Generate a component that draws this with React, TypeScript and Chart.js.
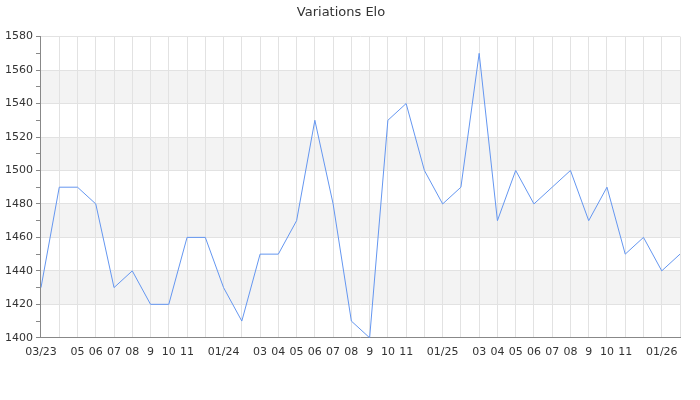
import React, { useEffect, useRef } from "react";
import { Chart, registerables } from "chart.js";

Chart.register(...registerables);

const months = [
  "2023-03","2023-04","2023-05","2023-06","2023-07","2023-08","2023-09","2023-10","2023-11","2023-12",
  "2024-01","2024-02","2024-03","2024-04","2024-05","2024-06","2024-07","2024-08","2024-09","2024-10","2024-11","2024-12",
  "2025-01","2025-02","2025-03","2025-04","2025-05","2025-06","2025-07","2025-08","2025-09","2025-10","2025-11","2025-12",
  "2026-01","2026-02",
];
const tickLabels = [
  "03/23","","05","06","07","08","9","10","11","",
  "01/24","","03","04","05","06","07","08","9","10","11","",
  "01/25","","03","04","05","06","07","08","9","10","11","",
  "01/26","",
];
const elo = [
  1430,1490,1490,1480,1430,1440,1420,1420,1460,1460,
  1430,1410,1450,1450,1470,1530,1480,1410,1400,1530,1540,1500,
  1480,1490,1570,1470,1500,1480,1490,1500,1470,1490,1450,1460,
  1440,1450,
];
const shadedBands = [[1420,1440],[1460,1480],[1500,1520],[1540,1560]];

const bandPlugin = {
  id: "bands",
  beforeDraw(chart: any) {
    const { ctx, chartArea, scales } = chart;
    ctx.save();
    ctx.fillStyle = "#ffffff";
    ctx.fillRect(0, 0, chart.width, chart.height);
    ctx.fillStyle = "#f3f3f3";
    const y = scales.y;
    for (const [a, b] of shadedBands) {
      const y1 = y.getPixelForValue(b);
      const y2 = y.getPixelForValue(a);
      ctx.fillRect(chartArea.left, y1, chartArea.right - chartArea.left, y2 - y1);
    }
    ctx.restore();
  },
};

export default function App() {
  const ref = useRef<HTMLCanvasElement>(null);
  useEffect(() => {
    document.body.style.margin = "0";
    const chart = new Chart(ref.current!, {
      type: "line",
      data: {
        labels: months,
        datasets: [
          {
            data: elo,
            borderColor: "rgb(100,150,240)",
            borderWidth: 1,
            pointRadius: 0,
            tension: 0,
            fill: false,
          },
        ],
      },
      options: {
        animation: false,
        responsive: false,
        layout: { padding: { left: 2, right: 20, bottom: 33, top: 0 } },
        font: { family: "DejaVu Sans", size: 11 },
        plugins: {
          legend: { display: false },
          tooltip: { enabled: false },
          title: {
            display: true,
            text: "Variations Elo",
            color: "#333",
            font: { family: "DejaVu Sans", size: 13, weight: "normal" },
            padding: { top: 5, bottom: 16 },
          },
        },
        scales: {
          x: {
            offset: false,
            grid: { color: "#e2e2e2", drawTicks: false },
            border: { color: "#888", width: 1 },
            ticks: {
              autoSkip: false,
              maxRotation: 0,
              padding: 8,
              color: "#333",
              font: { family: "DejaVu Sans", size: 11 },
              callback: (_v: any, i: number) => tickLabels[i],
            },
          },
          y: {
            min: 1400,
            max: 1580,
            grid: {
              color: (c: any) => (c.tick && c.tick.value % 20 === 0 ? "#e2e2e2" : "rgba(0,0,0,0)"),
              tickColor: "#888",
              tickLength: 5,
            },
            border: { color: "#888", width: 1 },
            ticks: {
              stepSize: 10,
              padding: 3,
              color: "#333",
              font: { family: "DejaVu Sans", size: 11 },
              callback: (v: any) => (Number(v) % 20 === 0 ? String(v) : ""),
            },
          },
        },
      },
      plugins: [bandPlugin],
    });
    return () => chart.destroy();
  }, []);
  return <canvas ref={ref} width={700} height={400} style={{ display: "block" }} />;
}
